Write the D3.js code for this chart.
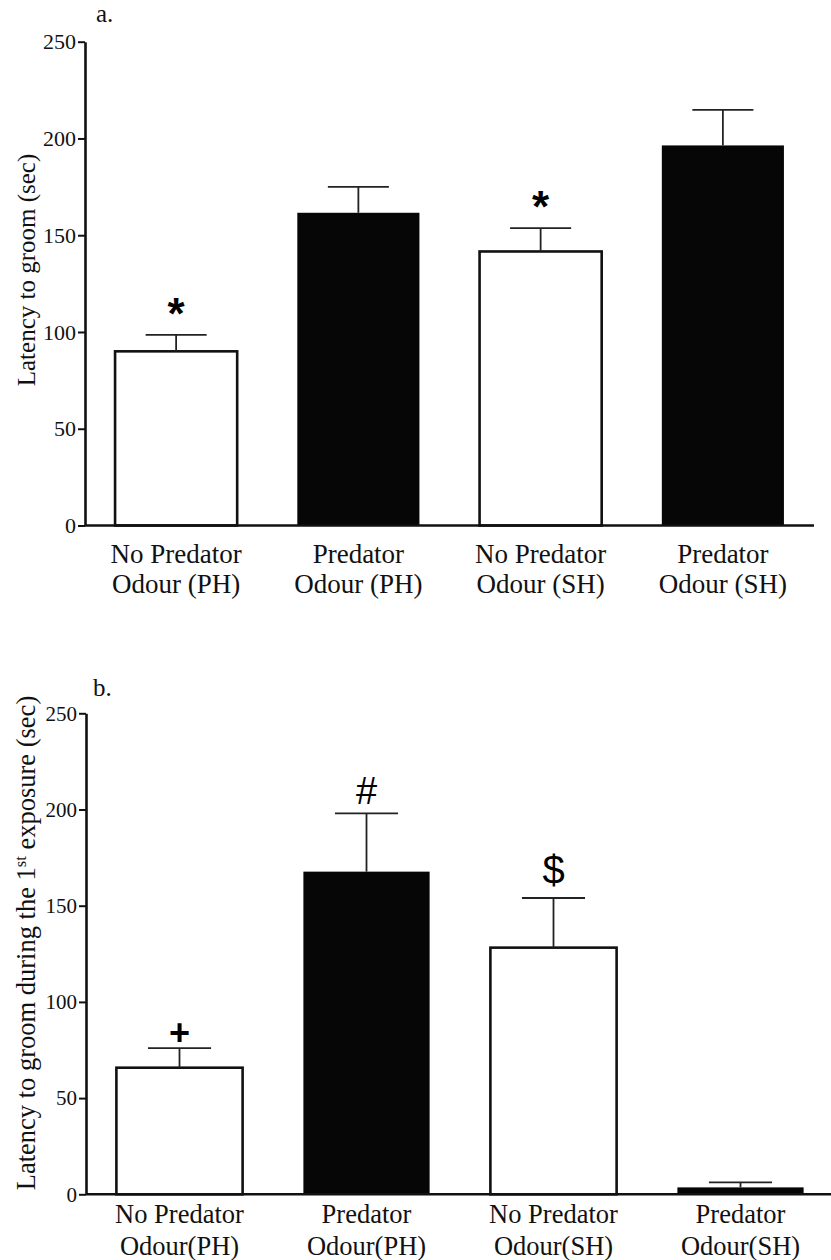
<!DOCTYPE html>
<html>
<head>
<meta charset="utf-8">
<script src="https://cdn.jsdelivr.net/npm/d3@7"></script>
<style>
  body { margin: 0; background: #fff; }
  svg { display: block; }
  .serif { font-family: "Liberation Serif", Tinos, "Times New Roman", Times, "DejaVu Serif", serif; }
</style>
</head>
<body>
<div id="chart"></div>
<script>
// panel a: latency to groom
const categoriesA = ["No Predator\nOdour (PH)", "Predator\nOdour (PH)", "No Predator\nOdour (SH)", "Predator\nOdour (SH)"];
const meansA = [90, 161.6, 141.6, 196.4];
const semA = [8.5, 13.4, 12.1, 18.4];
const marksA = ["*", "", "*", ""];

// panel b: latency to groom during 1st exposure
const categoriesB = ["No Predator\nOdour(PH)", "Predator\nOdour(PH)", "No Predator\nOdour(SH)", "Predator\nOdour(SH)"];
const meansB = [65.8, 167.7, 128.2, 3.6];
const semB = [10.2, 30.3, 25.8, 2.6];
const marksB = ["+", "#", "$", ""];

const fills = ["white", "black", "white", "black"];
const yTicks = [0, 50, 100, 150, 200, 250];

const sans = "'Liberation Sans', Arial, sans-serif";

// how each significance symbol is drawn
const markStyle = {
  "*": { size: 44, weight: "bold", dy: -6 },
  "+": { size: 36, weight: "bold", dy: -3 },
  "#": { size: 38, weight: "normal", dy: -9 },
  "$": { size: 40, weight: "normal", dy: -14 }
};

const svg = d3.select("#chart")
  .append("svg")
  .attr("width", 831)
  .attr("height", 1260);

function drawPanel(cfg) {
  const g = svg.append("g");

  const x = d3.scaleBand()
    .domain(cfg.categories)
    .range(cfg.xRange)
    .paddingInner(cfg.pad)
    .paddingOuter(cfg.pad / 2);

  const y = d3.scaleLinear()
    .domain([0, 250])
    .range(cfg.yRange);

  const rows = cfg.categories.map((c, i) => ({
    cat: c, mean: cfg.means[i], sem: cfg.sem[i], mark: cfg.marks[i], fill: fills[i]
  }));

  // bars
  g.selectAll(".bar")
    .data(rows)
    .join("rect")
    .attr("class", "bar")
    .attr("x", d => x(d.cat))
    .attr("width", x.bandwidth())
    .attr("y", d => y(d.mean))
    .attr("height", d => y(0) - y(d.mean))
    .attr("fill", d => d.fill === "black" ? "#060606" : "#fff")
    .attr("stroke", d => d.fill === "black" ? "none" : "#111")
    .attr("stroke-width", 2.6);

  // error bars (upper only)
  const eb = g.selectAll(".err")
    .data(rows)
    .join("g")
    .attr("class", "err")
    .attr("stroke", "#222")
    .attr("stroke-width", 1.8);

  eb.append("line")
    .attr("x1", d => x(d.cat) + x.bandwidth() / 2)
    .attr("x2", d => x(d.cat) + x.bandwidth() / 2)
    .attr("y1", d => y(d.mean))
    .attr("y2", d => y(d.mean + d.sem));

  eb.append("line")
    .attr("x1", d => x(d.cat) + x.bandwidth() / 4)
    .attr("x2", d => x(d.cat) + x.bandwidth() * 3 / 4)
    .attr("y1", d => y(d.mean + d.sem))
    .attr("y2", d => y(d.mean + d.sem));

  // significance symbols
  g.selectAll(".mark")
    .data(rows.filter(d => d.mark))
    .join("text")
    .attr("class", "mark")
    .attr("x", d => x(d.cat) + x.bandwidth() / 2)
    .attr("y", d => y(d.mean + d.sem) + markStyle[d.mark].dy)
    .attr("text-anchor", "middle")
    .style("font-family", sans)
    .style("font-size", d => markStyle[d.mark].size + "px")
    .style("font-weight", d => markStyle[d.mark].weight)
    .text(d => d.mark);

  // y axis
  const yAxis = g.append("g")
    .attr("transform", `translate(${cfg.xRange[0]},0)`)
    .call(d3.axisLeft(y).tickValues(yTicks).tickSize(7).tickSizeOuter(0).tickPadding(2));
  yAxis.attr("font-family", null);
  yAxis.select(".domain").attr("stroke", "#111").attr("stroke-width", 2.6);
  yAxis.selectAll(".tick line").attr("stroke", "#111").attr("stroke-width", 2);
  yAxis.selectAll(".tick text")
    .attr("class", "serif")
    .attr("fill", "#111")
    .style("font-size", cfg.tickFont + "px");

  // x axis line
  g.append("line")
    .attr("x1", cfg.xRange[0])
    .attr("x2", cfg.xEnd)
    .attr("y1", y(0))
    .attr("y2", y(0))
    .attr("stroke", "#111")
    .attr("stroke-width", 2.6);

  // category labels, two lines each
  const lab = g.selectAll(".xlab")
    .data(rows)
    .join("text")
    .attr("class", "xlab serif")
    .attr("text-anchor", "middle")
    .style("font-size", cfg.labelFont + "px")
    .attr("fill", "#111");
  lab.each(function (d) {
    const parts = d.cat.split("\n");
    const t = d3.select(this);
    parts.forEach((p, k) => {
      t.append("tspan")
        .attr("x", x(d.cat) + x.bandwidth() / 2)
        .attr("y", y(0) + cfg.labelY + k * cfg.labelGap)
        .text(p);
    });
  });

  // y title
  const yt = g.append("text")
    .attr("class", "serif")
    .attr("transform", `translate(${cfg.titleX},${cfg.titleY}) rotate(-90)`)
    .attr("text-anchor", "middle")
    .style("font-size", cfg.titleFont + "px")
    .attr("fill", "#111");
  cfg.yTitle.forEach(part => {
    const ts = yt.append("tspan").text(part.text);
    if (part.sup) ts.attr("baseline-shift", "super").style("font-size", (cfg.titleFont * 0.62) + "px");
  });

  // panel letter
  g.append("text")
    .attr("class", "serif")
    .attr("x", cfg.letterPos[0])
    .attr("y", cfg.letterPos[1])
    .style("font-size", "25px")
    .attr("fill", "#111")
    .text(cfg.letter);
}

drawPanel({
  categories: categoriesA, means: meansA, sem: semA, marks: marksA,
  xRange: [85, 814], xEnd: 814, pad: 0.33,
  yRange: [525.5, 41.7],
  tickFont: 22, labelFont: 27, labelY: 37, labelGap: 30,
  titleX: 35, titleY: 270, titleFont: 25,
  yTitle: [{ text: "Latency to groom (sec)" }],
  letter: "a.", letterPos: [96, 22]
});

drawPanel({
  categories: categoriesB, means: meansB, sem: semB, marks: marksB,
  xRange: [86, 834], xEnd: 831, pad: 0.325,
  yRange: [1194.3, 713.3],
  tickFont: 21, labelFont: 26.5, labelY: 29, labelGap: 32,
  titleX: 35, titleY: 943, titleFont: 26.5,
  yTitle: [{ text: "Latency to groom during the 1" }, { text: "st", sup: true }, { text: " exposure (sec)" }],
  letter: "b.", letterPos: [93, 696]
});
</script>
</body>
</html>
